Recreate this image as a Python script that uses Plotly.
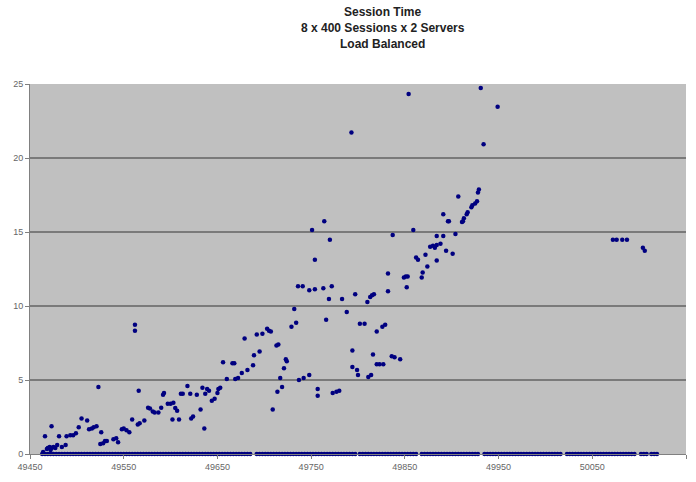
import plotly.graph_objects as go

# Session id (x) and session time (y) for sessions with non-zero time
session_x = [
    49464, 49468, 49469, 49471, 49472, 49473, 49475, 49477, 49479, 49484, 49488,
    49466, 49473, 49481, 49489, 49493, 49496, 49499, 49502, 49505, 49511, 49513,
    49516, 49518, 49521, 49523, 49526, 49525, 49528, 49530, 49532, 49539, 49542,
    49544, 49548, 49550, 49553, 49556, 49559, 49562, 49562, 49565, 49566, 49567,
    49572, 49576, 49578, 49581, 49583, 49587, 49590, 49592, 49593, 49597, 49600,
    49603, 49605, 49602, 49607, 49609, 49611, 49613, 49618, 49621, 49622, 49624,
    49628, 49632, 49634, 49636, 49637, 49639, 49641, 49644, 49647, 49650, 49651,
    49653, 49656, 49660, 49666, 49668, 49669, 49672, 49676, 49679, 49682, 49688,
    49689, 49692, 49695, 49698, 49703, 49705, 49707, 49709, 49713, 49715, 49714,
    49717, 49719, 49721, 49723, 49724, 49729, 49732, 49734, 49736, 49737, 49741,
    49742, 49748, 49748, 49751, 49754, 49754, 49757, 49757, 49763, 49764, 49766,
    49769, 49770, 49772, 49773, 49777, 49780, 49783, 49788, 49793, 49794, 49794,
    49797, 49799, 49800, 49802, 49807, 49810, 49811, 49813, 49814, 49815, 49816,
    49817, 49820, 49820, 49823, 49826, 49827, 49829, 49832, 49832, 49836, 49837,
    49839, 49845, 49849, 49851, 49853, 49852, 49854, 49859, 49862, 49864, 49868,
    49869, 49872, 49874, 49877, 49880, 49882, 49884, 49884, 49884, 49888, 49891,
    49891, 49894, 49896, 49897, 49901, 49904, 49907, 49911, 49912, 49913, 49916,
    49917, 49921, 49922, 49925, 49927, 49928, 49929, 49931, 49934, 49949, 50072,
    50076, 50082, 50087, 50104, 50106,
]
session_time = [
    0.13, 0.33, 0.4, 0.47, 0.27, 0.4, 0.47, 0.4, 0.6, 0.47, 0.6,
    1.2, 1.87, 1.2, 1.2, 1.27, 1.27, 1.4, 1.8, 2.4, 2.27, 1.67,
    1.73, 1.8, 1.87, 4.53, 1.47, 0.67, 0.73, 0.87, 0.87, 1.0, 1.07,
    0.8, 1.67, 1.73, 1.6, 1.47, 2.33, 8.73, 8.33, 2.0, 4.27, 2.07,
    2.27, 3.13, 3.07, 2.87, 2.8, 2.8, 3.13, 4.0, 4.13, 3.4, 3.4,
    3.47, 3.1, 2.33, 2.93, 2.33, 4.07, 4.07, 4.6, 4.07, 2.4, 2.53,
    4.0, 3.0, 4.47, 1.73, 4.07, 4.4, 4.27, 3.6, 3.73, 4.13, 4.4,
    4.47, 6.2, 5.07, 6.13, 6.13, 5.07, 5.13, 5.47, 7.8, 5.67, 6.0,
    6.67, 8.07, 6.93, 8.13, 8.47, 8.33, 8.27, 3.0, 7.33, 7.4, 4.2,
    5.13, 4.53, 5.8, 6.4, 6.27, 8.6, 9.8, 8.87, 11.33, 5.0, 11.33,
    5.13, 11.07, 5.33, 15.13, 11.13, 13.13, 4.4, 3.93, 11.2, 15.73, 9.07,
    10.47, 14.47, 11.33, 4.13, 4.2, 4.27, 10.47, 9.6, 21.73, 7.0, 5.87,
    10.8, 5.67, 5.33, 8.8, 8.8, 10.27, 5.2, 10.6, 5.33, 10.73, 6.73,
    10.8, 8.27, 6.07, 6.07, 8.6, 6.07, 8.73, 12.2, 11.0, 6.6, 14.8,
    6.53, 6.4, 11.93, 12.0, 12.0, 11.27, 24.33, 15.13, 13.27, 13.13, 11.93,
    12.27, 13.47, 12.67, 14.0, 14.07, 13.93, 14.13, 14.73, 13.07, 14.2, 16.2,
    14.73, 13.73, 15.73, 15.73, 13.53, 14.87, 17.4, 15.67, 15.73, 15.93, 16.2,
    16.33, 16.67, 16.8, 16.93, 17.07, 17.67, 17.87, 24.73, 20.93, 23.47, 14.47,
    14.47, 14.47, 14.47, 13.93, 13.73,
]

# Session ids whose recorded time is zero
zero_x = [
    49463, 49466, 49469, 49472, 49475, 49478, 49481, 49484, 49487, 49490, 49493,
    49496, 49499, 49502, 49505, 49508, 49511, 49514, 49517, 49520, 49523, 49526,
    49529, 49532, 49535, 49538, 49541, 49544, 49547, 49550, 49553, 49556, 49559,
    49562, 49565, 49568, 49571, 49574, 49577, 49580, 49583, 49586, 49589, 49592,
    49595, 49598, 49601, 49604, 49607, 49610, 49613, 49616, 49619, 49622, 49625,
    49628, 49631, 49634, 49637, 49640, 49643, 49646, 49649, 49652, 49655, 49658,
    49661, 49664, 49667, 49670, 49673, 49676, 49679, 49682, 49685,
    49692, 49695, 49698, 49701, 49704, 49707, 49710, 49713, 49716, 49719, 49722,
    49725, 49728, 49731, 49734, 49737, 49740, 49743, 49746, 49749, 49752, 49755,
    49758, 49761, 49764, 49767, 49770, 49773, 49776, 49779, 49782, 49785, 49788,
    49791, 49794, 49797,
    49802, 49805, 49808, 49811, 49814, 49817, 49820, 49823, 49826, 49829, 49832,
    49835, 49838, 49841, 49844, 49847, 49850, 49853, 49856, 49859, 49862,
    49868, 49871, 49874, 49877, 49880, 49883, 49886, 49889, 49892, 49895, 49898,
    49901, 49904, 49907, 49910, 49913, 49916, 49919, 49922, 49925, 49928,
    49935, 49938, 49941, 49944, 49947, 49950, 49953, 49956, 49959, 49962, 49965,
    49968, 49971, 49974, 49977, 49980, 49983, 49986, 49989, 49992, 49995, 49998,
    50001, 50004, 50007, 50010, 50013, 50016,
    50023, 50026, 50029, 50032, 50035, 50038, 50041, 50044, 50047, 50050, 50053,
    50056, 50059, 50062, 50065, 50068, 50071, 50074, 50077, 50080, 50083, 50086,
    50089, 50092, 50095,
    50102, 50105, 50108,
    50113, 50116, 50119,
]
zero_time = [0 for _ in zero_x]

x_ticks = [49450, 49550, 49650, 49750, 49850, 49950, 50050, 50150]
y_ticks = [0, 5, 10, 15, 20, 25]
title_lines = ["Session Time", "8 x 400 Sessions x 2 Servers", "Load Balanced"]

all_x = zero_x + session_x
all_y = zero_time + session_time

fig = go.Figure()
fig.add_trace(go.Scatter(
    x=all_x, y=all_y, mode="markers",
    marker=dict(color="#000080", size=4.5, line=dict(width=0)),
    cliponaxis=False, showlegend=False, hoverinfo="skip",
))

title_y = [1.195, 1.152, 1.109]
for txt, ty in zip(title_lines, title_y):
    fig.add_annotation(
        text="<b>" + txt + "</b>", xref="paper", yref="paper",
        x=0.538, y=ty, xanchor="center", yanchor="middle", showarrow=False,
        font=dict(size=12, color="#222222", family="Arial, Liberation Sans, sans-serif"),
    )

fig.update_layout(
    width=696, height=482,
    paper_bgcolor="white", plot_bgcolor="#c0c0c0",
    margin=dict(l=30, r=10, t=84, b=23),
    font=dict(family="Arial, Liberation Sans, sans-serif"),
    hovermode=False,
    xaxis=dict(
        range=[49450, 50150], tickvals=x_ticks, ticktext=[str(v) for v in x_ticks],
        showgrid=False, zeroline=False, showline=True, linecolor="#808080", linewidth=1,
        ticks="outside", ticklen=4, tickcolor="#808080",
        tickfont=dict(size=9, color="#666666"),
    ),
    yaxis=dict(
        range=[0, 25], tickvals=y_ticks, ticktext=[str(v) for v in y_ticks],
        showgrid=True, gridcolor="#7a7a7a", gridwidth=2, zeroline=False,
        showline=True, linecolor="#808080", linewidth=1,
        ticks="outside", ticklen=4, tickcolor="#808080",
        tickfont=dict(size=9, color="#666666"),
    ),
)

# Remove the default page body margin so the figure fills the window exactly.
fig.write_html(
    "out.html",
    config={"displayModeBar": False},
    post_script="document.body.style.margin='0';",
)
